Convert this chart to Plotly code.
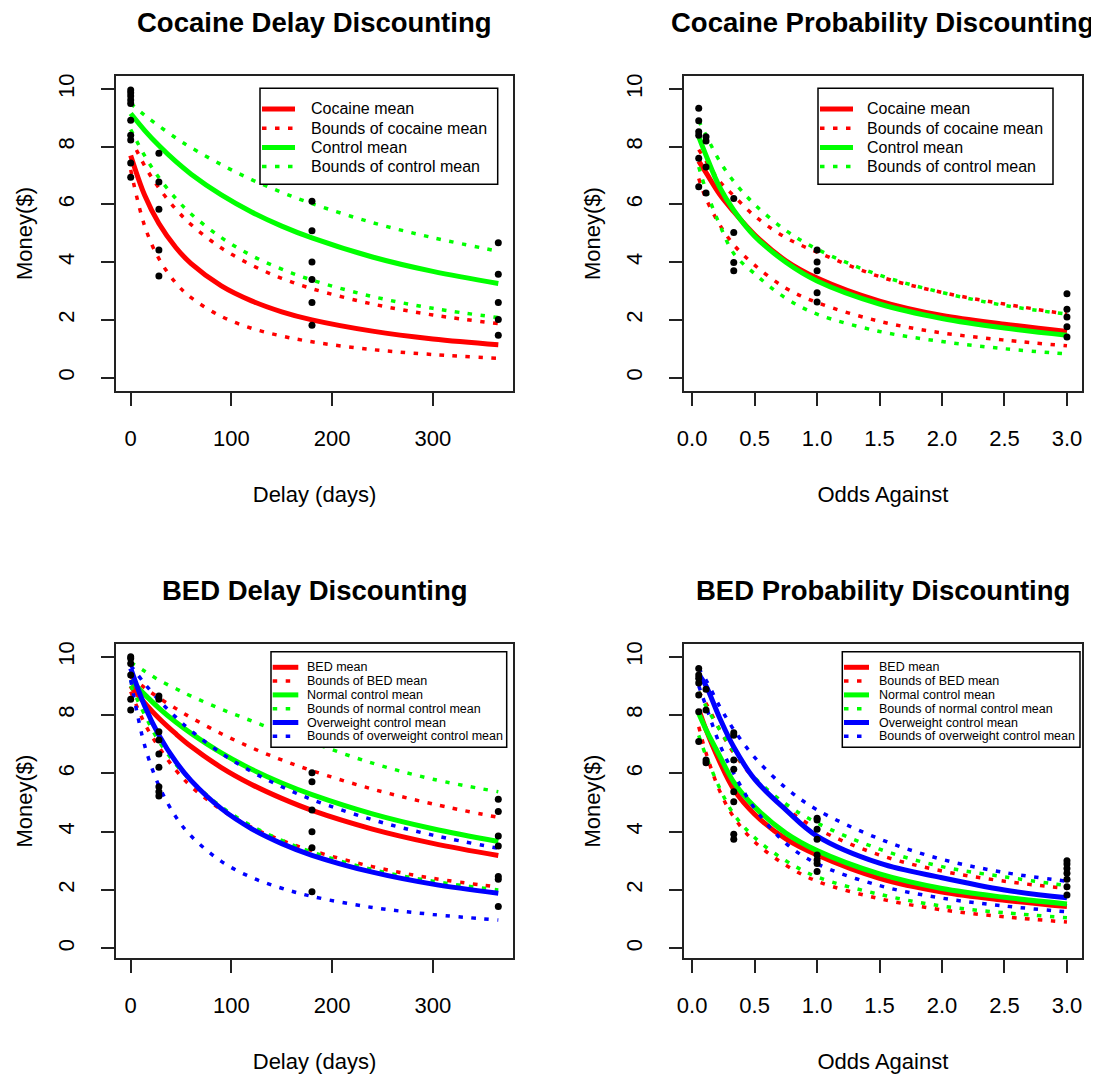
import plotly.graph_objects as go

# ---------------- data ----------------
delay_grid = [0, 14, 28, 45, 60, 90, 120, 150, 180, 240, 300, 365]
odds_grid = [0.0526, 0.111, 0.22, 0.333, 0.5, 0.75, 1.0, 1.5, 2.0, 2.5, 3.0]

# Cocaine delay discounting
coc_d_mean = [7.7, 6.31, 5.34, 4.5, 3.95, 3.18, 2.66, 2.28, 2.0, 1.61, 1.34, 1.14]
coc_d_up = [8.3, 7.33, 6.57, 5.83, 5.3, 4.49, 3.9, 3.44, 3.08, 2.55, 2.17, 1.87]
coc_d_lo = [7.2, 5.24, 4.12, 3.27, 2.77, 2.12, 1.71, 1.44, 1.24, 0.97, 0.8, 0.67]
ctl_d_mean = [9.15, 8.56, 8.04, 7.48, 7.05, 6.33, 5.74, 5.25, 4.84, 4.18, 3.68, 3.26]
ctl_d_up = [9.5, 9.09, 8.72, 8.3, 7.97, 7.38, 6.86, 6.42, 6.03, 5.37, 4.85, 4.38]
ctl_d_lo = [8.6, 7.68, 6.93, 6.2, 5.67, 4.85, 4.23, 3.76, 3.38, 2.81, 2.4, 2.08]
coc_d_pts_x = [0] * 10 + [28] * 5 + [180] * 6 + [365] * 5
coc_d_pts_y = [9.97, 9.87, 9.76, 9.62, 9.5, 8.92, 8.4, 8.23, 7.44, 6.94,
               7.77, 6.78, 5.83, 4.42, 3.52,
               6.11, 5.09, 4.01, 3.40, 2.60, 1.81,
               4.67, 3.58, 2.60, 2.01, 1.47]

# Cocaine probability discounting
coc_p_mean = [7.5, 7.1, 6.35, 5.75, 4.95, 4.05, 3.45, 2.65, 2.15, 1.85, 1.6]
coc_p_up = [7.9, 7.5, 6.8, 6.3, 5.6, 4.85, 4.35, 3.5, 2.95, 2.55, 2.2]
coc_p_lo = [6.9, 6.2, 5.3, 4.6, 3.9, 3.1, 2.6, 1.95, 1.55, 1.3, 1.1]
ctl_p_mean = [8.35, 7.7, 6.6, 5.8, 4.9, 4.0, 3.35, 2.55, 2.05, 1.72, 1.47]
ctl_p_up = [8.9, 8.4, 7.5, 6.8, 6.0, 5.1, 4.45, 3.55, 2.95, 2.5, 2.2]
ctl_p_lo = [7.3, 6.5, 5.3, 4.3, 3.6, 2.75, 2.2, 1.6, 1.25, 1.0, 0.82]
coc_p_pts_x = [0.0526] * 6 + [0.111] * 4 + [0.333] * 4 + [1.0] * 5 + [3.0] * 5
coc_p_pts_y = [9.33, 8.9, 8.52, 8.4, 7.6, 6.61,
               8.35, 8.2, 7.3, 6.4,
               6.21, 5.03, 3.99, 3.70,
               4.42, 4.01, 3.70, 2.94, 2.62,
               2.91, 2.37, 2.10, 1.76, 1.41]

# BED delay discounting
bed_d_mean = [9.0, 8.41, 7.89, 7.35, 6.92, 6.2, 5.62, 5.14, 4.73, 4.09, 3.6, 3.18]
bed_d_up = [9.3, 8.93, 8.59, 8.22, 7.91, 7.36, 6.88, 6.46, 6.09, 5.46, 4.95, 4.49]
bed_d_lo = [8.8, 7.7, 6.9, 6.1, 5.55, 4.75, 4.15, 3.7, 3.35, 2.8, 2.4, 2.1]
nrm_d_mean = [9.2, 8.7, 8.24, 7.75, 7.37, 6.7, 6.14, 5.67, 5.27, 4.61, 4.1, 3.66]
nrm_d_up = [9.8, 9.5, 9.2, 8.9, 8.65, 8.2, 7.8, 7.4, 7.05, 6.35, 5.8, 5.37]
nrm_d_lo = [9.0, 8.0, 7.1, 6.3, 5.75, 4.85, 4.2, 3.7, 3.3, 2.7, 2.3, 2.0]
ow_d_mean = [9.6, 8.3, 7.31, 6.39, 5.75, 4.79, 4.1, 3.59, 3.19, 2.61, 2.2, 1.89]
ow_d_up = [9.7, 9.07, 8.51, 7.92, 7.46, 6.69, 6.06, 5.54, 5.1, 4.41, 3.88, 3.43]
ow_d_lo = [9.2, 6.94, 5.58, 4.5, 3.85, 2.98, 2.43, 2.06, 1.78, 1.4, 1.16, 0.97]
bed_d_pts_x = [0] * 6 + [28] * 9 + [180] * 7 + [365] * 7
bed_d_pts_y = [10.0, 9.94, 9.77, 9.37, 8.54, 8.17,
               8.65, 8.54, 7.43, 7.14, 6.66, 6.21, 5.54, 5.37, 5.22,
               7.37, 6.02, 5.71, 4.74, 4.0, 3.45, 1.94,
               5.11, 4.69, 3.85, 3.51, 2.46, 2.37, 1.43]

# BED probability discounting
bed_p_mean = [8.2, 7.5, 6.4, 5.45, 4.6, 3.75, 3.2, 2.4, 1.93, 1.65, 1.43]
bed_p_up = [8.8, 8.4, 7.5, 6.7, 5.8, 4.8, 4.1, 3.2, 2.65, 2.3, 2.05]
bed_p_lo = [7.6, 6.7, 5.4, 4.5, 3.65, 2.85, 2.3, 1.7, 1.32, 1.08, 0.9]
nrm_p_mean = [8.05, 7.5, 6.6, 5.7, 4.85, 3.95, 3.35, 2.55, 2.05, 1.75, 1.52]
nrm_p_up = [8.8, 8.3, 7.5, 6.75, 5.85, 4.95, 4.3, 3.4, 2.8, 2.45, 2.15]
nrm_p_lo = [7.3, 6.6, 5.5, 4.6, 3.8, 3.0, 2.45, 1.85, 1.45, 1.22, 1.05]
ow_p_mean = [9.4, 9.0, 7.9, 6.9, 5.8, 4.75, 3.85, 2.92, 2.42, 2.0, 1.73]
ow_p_up = [9.6, 9.2, 8.3, 7.5, 6.55, 5.5, 4.75, 3.75, 3.05, 2.6, 2.3]
ow_p_lo = [9.0, 8.3, 7.0, 6.0, 4.8, 3.6, 2.9, 2.15, 1.72, 1.45, 1.25]
bed_p_pts_x = [0.0526] * 7 + [0.111] * 4 + [0.333] * 8 + [1.0] * 8 + [3.0] * 7
bed_p_pts_y = [9.6, 9.37, 9.26, 9.1, 8.69, 8.11, 7.09,
               8.88, 8.17, 6.46, 6.36,
               7.39, 7.31, 6.46, 6.14, 5.37, 5.03, 3.91, 3.74,
               4.46, 4.4, 4.08, 3.74, 3.2, 3.03, 2.91, 2.63,
               3.0, 2.89, 2.74, 2.57, 2.37, 2.11, 1.83]

titles = ["Cocaine Delay Discounting", "Cocaine Probability Discounting",
          "BED Delay Discounting", "BED Probability Discounting"]
delay_ticks = [0, 100, 200, 300]
odds_ticks = [0.0, 0.5, 1.0, 1.5, 2.0, 2.5, 3.0]
money_ticks = [0, 2, 4, 6, 8, 10]

legend_top_labels = ["Cocaine mean", "Bounds of cocaine mean", "Control mean", "Bounds of control mean"]
legend_bed_labels = ["BED mean", "Bounds of BED mean", "Normal control mean",
                     "Bounds of normal control mean", "Overweight control mean",
                     "Bounds of overweight control mean"]

# ---------------- styling ----------------
FONT = "Liberation Sans, Arial, sans-serif"
RED, GREEN, BLUE = "#FF0000", "#00FF00", "#0000FF"
DOT = "4.5px,8.5px"
W_MEAN, W_DOT = 5, 3.5
OFF = 8                      # the page body adds an 8px margin
WF, HF = 1099 - OFF, 1076 - OFF

fig = go.Figure()


def ax_names(ax):
    return ("x", "y") if ax == 1 else (f"x{ax}", f"y{ax}")


def add_group(x, mean, up, lo, color, mean_name, bound_name, ax):
    xa, ya = ax_names(ax)
    fig.add_trace(go.Scatter(x=x, y=mean, mode="lines", name=mean_name, showlegend=False,
                             line=dict(color=color, width=W_MEAN, shape="spline"),
                             xaxis=xa, yaxis=ya))
    for b in (up, lo):
        fig.add_trace(go.Scatter(x=x, y=b, mode="lines", name=bound_name, showlegend=False,
                                 line=dict(color=color, width=W_DOT, dash=DOT, shape="spline"),
                                 xaxis=xa, yaxis=ya))


def add_points(x, y, ax):
    xa, ya = ax_names(ax)
    fig.add_trace(go.Scatter(x=x, y=y, mode="markers", showlegend=False, name="data",
                             marker=dict(color="black", size=7),
                             xaxis=xa, yaxis=ya))


# panel 1
add_group(delay_grid, coc_d_mean, coc_d_up, coc_d_lo, RED, legend_top_labels[0], legend_top_labels[1], 1)
add_group(delay_grid, ctl_d_mean, ctl_d_up, ctl_d_lo, GREEN, legend_top_labels[2], legend_top_labels[3], 1)
add_points(coc_d_pts_x, coc_d_pts_y, 1)
# panel 2
add_group(odds_grid, coc_p_mean, coc_p_up, coc_p_lo, RED, legend_top_labels[0], legend_top_labels[1], 2)
add_group(odds_grid, ctl_p_mean, ctl_p_up, ctl_p_lo, GREEN, legend_top_labels[2], legend_top_labels[3], 2)
add_points(coc_p_pts_x, coc_p_pts_y, 2)
# panel 3
add_group(delay_grid, bed_d_mean, bed_d_up, bed_d_lo, RED, legend_bed_labels[0], legend_bed_labels[1], 3)
add_group(delay_grid, nrm_d_mean, nrm_d_up, nrm_d_lo, GREEN, legend_bed_labels[2], legend_bed_labels[3], 3)
add_group(delay_grid, ow_d_mean, ow_d_up, ow_d_lo, BLUE, legend_bed_labels[4], legend_bed_labels[5], 3)
add_points(bed_d_pts_x, bed_d_pts_y, 3)
# panel 4
add_group(odds_grid, bed_p_mean, bed_p_up, bed_p_lo, RED, legend_bed_labels[0], legend_bed_labels[1], 4)
add_group(odds_grid, nrm_p_mean, nrm_p_up, nrm_p_lo, GREEN, legend_bed_labels[2], legend_bed_labels[3], 4)
add_group(odds_grid, ow_p_mean, ow_p_up, ow_p_lo, BLUE, legend_bed_labels[4], legend_bed_labels[5], 4)
add_points(bed_p_pts_x, bed_p_pts_y, 4)


def px(x):
    return (x - OFF) / WF


def py(y):
    return 1 - (y - OFF) / HF


boxes = {  # plot boxes in page pixels (left, right, top, bottom)
    1: (116, 513, 76, 391),
    2: (684, 1081.7, 76, 391),
    3: (116, 513, 644, 958.3),
    4: (684, 1081.7, 644, 958.3),
}
ranges_y = {1: [-0.464, 10.451], 2: [-0.464, 10.451], 3: [-0.343, 10.436], 4: [-0.343, 10.436]}

axis_common = dict(showline=True, mirror=True, linecolor="#222", linewidth=1.5,
                   ticks="outside", ticklen=13, tickwidth=1.5, tickcolor="#222",
                   showgrid=False, zeroline=False, automargin=False,
                   tickfont=dict(family=FONT, size=22, color="black"))

layout = {}
for i in range(1, 5):
    l, r, t, b = boxes[i]
    sx = "" if i == 1 else str(i)
    delay = i in (1, 3)
    layout[f"xaxis{sx}"] = dict(
        axis_common, domain=[px(l), px(r)], anchor=f"y{sx}",
        range=[-14.6, 379.6] if delay else [-0.0653, 3.118],
        tickvals=delay_ticks if delay else odds_ticks,
        tickformat="d" if delay else ".1f",
        ticklabelstandoff=14,
        title=dict(text="Delay (days)" if delay else "Odds Against",
                   font=dict(family=FONT, size=22, color="black"), standoff=36))
    layout[f"yaxis{sx}"] = dict(
        axis_common, domain=[py(b), py(t)], anchor=f"x{sx}",
        range=ranges_y[i], tickvals=money_ticks, tickangle=-90,
        ticklabelstandoff=18,
        title=dict(text="Money($)", font=dict(family=FONT, size=22, color="black"), standoff=16))

# ---------------- legends (drawn like R's legend boxes) ----------------
shapes = []
annotations = []


def draw_legend(box, line_x, text_x, row_y, labels, colors, fsize):
    l, r, t, b = box
    shapes.append(dict(type="rect", xref="paper", yref="paper",
                       x0=px(l), x1=px(r), y0=py(b), y1=py(t),
                       line=dict(color="black", width=1.5), fillcolor="white", layer="above"))
    for k, (lab, col) in enumerate(zip(labels, colors)):
        y = row_y[0] + k * row_y[1]
        dotted = k % 2 == 1
        shapes.append(dict(type="line", xref="paper", yref="paper",
                           x0=px(line_x[0]), x1=px(line_x[1]), y0=py(y), y1=py(y),
                           line=dict(color=col, width=W_DOT if dotted else W_MEAN,
                                     dash=DOT if dotted else "solid"), layer="above"))
        annotations.append(dict(text=lab, xref="paper", yref="paper", x=px(text_x), y=py(y),
                                xanchor="left", yanchor="middle", showarrow=False,
                                font=dict(family=FONT, size=fsize, color="black")))


top_colors = [RED, RED, GREEN, GREEN]
bed_colors = [RED, RED, GREEN, GREEN, BLUE, BLUE]
draw_legend((260, 497.7, 88.3, 184.3), (262, 295), 309, (109, 19.2), legend_top_labels, top_colors, 16)
draw_legend((818, 1053, 88.3, 184.3), (820, 853), 865, (109, 19.2), legend_top_labels, top_colors, 16)
draw_legend((271, 506.7, 651.7, 747.3), (272.7, 298.3), 305, (667.3, 13.8), legend_bed_labels, bed_colors, 12.5)
draw_legend((842.3, 1080, 651.7, 747.3), (844, 869), 877, (667.3, 13.8), legend_bed_labels, bed_colors, 12.5)

for i in range(1, 5):
    l, r, t, b = boxes[i]
    annotations.append(dict(text=f"<b>{titles[i - 1]}</b>", xref="paper", yref="paper",
                            x=px((l + r) / 2), y=py(t - 54), xanchor="center",
                            yanchor="middle", showarrow=False,
                            font=dict(family=FONT, size=27.5, color="black")))

fig.update_layout(width=WF, height=HF, margin=dict(l=0, r=0, t=0, b=0),
                  paper_bgcolor="white", plot_bgcolor="white", showlegend=False,
                  shapes=shapes, annotations=annotations, **layout)

fig.write_html("out.html")
